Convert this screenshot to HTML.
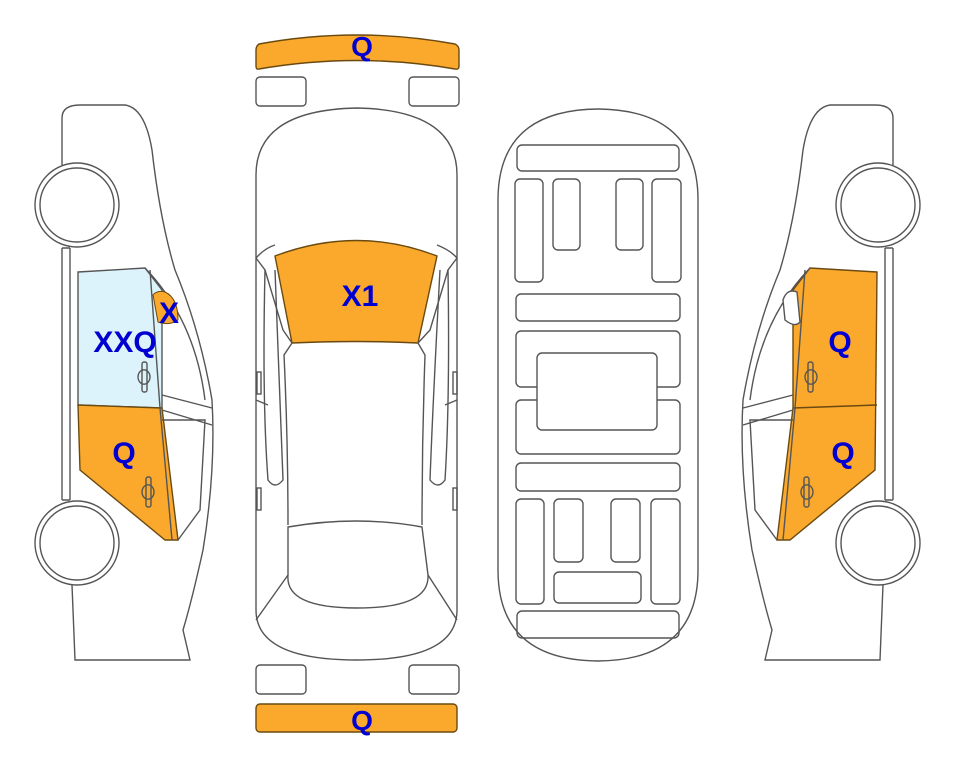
<!DOCTYPE html>
<html><head><meta charset="utf-8"><style>
html,body{margin:0;padding:0;background:#fff;}
svg{display:block;}
text{font-family:"Liberation Sans",Arial,sans-serif;font-weight:bold;fill:#0000d0;}
</style></head><body>
<svg width="963" height="768" viewBox="0 0 963 768" xmlns="http://www.w3.org/2000/svg">
<g fill="none" stroke="#555" stroke-width="1.4">
<path d="M259,44 Q357,26 455,44 Q459,46 459,50 L459,66 Q459,70 455,69 Q357,52 259,69 Q256,70 256,66 L256,50 Q256,46 259,44 Z" fill="#fba92d" stroke="#6a4a10"/>
<rect x="256" y="77" width="50" height="29" rx="4"/>
<rect x="409" y="77" width="50" height="29" rx="4"/>
<rect x="256" y="665" width="50" height="29" rx="4"/>
<rect x="409" y="665" width="50" height="29" rx="4"/>
<rect x="256" y="704" width="201" height="28" rx="4" fill="#fba92d" stroke="#6a4a10"/>

<path d="M256,175 Q256,110 357,108 Q457,110 457,175 L457,610 Q457,660 357,660 Q256,660 256,610 Z"/>
<path d="M275,256 Q357,225 437,256 L418,343 Q357,340 292,343 Z" fill="#fba92d" stroke="#6a4a10"/>
<path d="M256,258 Q265,248 275,245 M437,245 Q450,250 457,258"/>
<path d="M256,258 L265,270 L283,330 L292,343 M457,258 L448,270 L430,330 L418,343"/>
<path d="M292,343 L284,355 Q288,440 288,525 M418,343 L425,355 Q422,440 422,525"/>
<path d="M265,270 Q262,400 268,480 Q275,490 283,480 Q280,400 275,270"/>
<path d="M448,270 Q450,400 445,480 Q438,490 430,480 Q433,400 440,270"/>
<path d="M288,527 Q357,515 422,527 L428,575 Q430,608 357,608 Q285,608 288,575 Z"/>
<path d="M256,620 L288,575 M457,620 L428,575 M256,400 L268,405 M457,400 L445,405"/>
<rect x="257" y="372" width="4" height="22"/><rect x="453" y="372" width="4" height="22"/>
<rect x="257" y="488" width="4" height="22"/><rect x="453" y="488" width="4" height="22"/>

<path d="M498,200 Q498,110 598,109 Q698,110 698,200 L698,570 Q698,660 598,661 Q498,660 498,570 Z"/>
<rect x="517" y="145" width="162" height="26" rx="5"/>
<rect x="515" y="179" width="28" height="103" rx="5"/>
<rect x="553" y="179" width="27" height="71" rx="5"/>
<rect x="616" y="179" width="27" height="71" rx="5"/>
<rect x="652" y="179" width="29" height="103" rx="5"/>
<rect x="516" y="294" width="164" height="27" rx="5"/>
<rect x="516" y="331" width="164" height="56" rx="5"/>
<rect x="516" y="400" width="164" height="54" rx="5"/>
<rect x="537" y="353" width="120" height="77" rx="5" fill="#fff"/>
<rect x="516" y="463" width="164" height="28" rx="5"/>
<rect x="516" y="499" width="28" height="105" rx="5"/>
<rect x="554" y="499" width="29" height="63" rx="5"/>
<rect x="611" y="499" width="29" height="63" rx="5"/>
<rect x="651" y="499" width="29" height="105" rx="5"/>
<rect x="554" y="572" width="87" height="31" rx="5"/>
<rect x="517" y="611" width="162" height="27" rx="5"/>
</g>

<g fill="none" stroke="#555" stroke-width="1.4">
<path d="M62,165 L62,118 Q62,105 80,105 L125,105 Q145,108 152,150 Q160,220 175,270 Q200,330 212,400 Q216,470 203,550 Q192,600 183,630 L190,660 L75,660 L72,585 M62,248 L62,500"/>
<path d="M70,248 L70,500 M62,500 L70,500 M62,248 L70,248"/>
<path d="M78,272 L145,268 L162,290 L162,408 L78,405 Z" fill="#dcf3fb"/>
<path d="M78,405 L162,408 L178,540 L165,540 L80,470 Z" fill="#fba92d" stroke="#6a4a10"/>
<path d="M145,268 Q195,320 205,400 M162,395 L212,408 M162,410 L212,425 M162,420 L205,420 L200,510 L178,540"/>
<path d="M150,270 L160,408 L172,540"/>
<circle cx="77" cy="205" r="42" fill="#fff"/><circle cx="77" cy="205" r="37"/>
<circle cx="77" cy="543" r="42" fill="#fff"/><circle cx="77" cy="543" r="37"/>
<rect x="142" y="362" width="5" height="30" rx="2"/><path d="M138,377 a5,6 0 1,0 12,0 a5,6 0 1,0 -12,0"/>
<rect x="146" y="477" width="5" height="30" rx="2"/><path d="M142,492 a5,6 0 1,0 12,0 a5,6 0 1,0 -12,0"/>
</g>
<path d="M153,295 Q157,290 165,292 Q178,298 178,320 Q170,326 158,322 Z" fill="#fba92d" stroke="#6a4a10" stroke-width="1"/>

<g transform="translate(955,0) scale(-1,1)" fill="none" stroke="#555" stroke-width="1.4">
<path d="M62,165 L62,118 Q62,105 80,105 L125,105 Q145,108 152,150 Q160,220 175,270 Q200,330 212,400 Q216,470 203,550 Q192,600 183,630 L190,660 L75,660 L72,585 M62,248 L62,500"/>
<path d="M70,248 L70,500 M62,500 L70,500 M62,248 L70,248"/>
<path d="M78,272 L145,268 L162,290 L162,408 L178,540 L165,540 L80,470 Z" fill="#fba92d" stroke="#6a4a10"/>
<path d="M78,405 L162,408" stroke="#6a4a10"/>
<path d="M145,268 Q195,320 205,400 M162,395 L212,408 M162,410 L212,425 M162,420 L205,420 L200,510 L178,540"/>
<path d="M150,270 L160,408 L172,540"/>
<path d="M158,292 Q168,288 172,300 L170,320 Q160,328 155,322 Z" fill="#fff"/>
<circle cx="77" cy="205" r="42" fill="#fff"/><circle cx="77" cy="205" r="37"/>
<circle cx="77" cy="543" r="42" fill="#fff"/><circle cx="77" cy="543" r="37"/>
<rect x="142" y="362" width="5" height="30" rx="2"/><path d="M138,377 a5,6 0 1,0 12,0 a5,6 0 1,0 -12,0"/>
<rect x="146" y="477" width="5" height="30" rx="2"/><path d="M142,492 a5,6 0 1,0 12,0 a5,6 0 1,0 -12,0"/>
</g>

<text x="362" y="56" font-size="28" text-anchor="middle">Q</text>
<text x="362" y="730" font-size="28" text-anchor="middle">Q</text>
<text x="360" y="306" font-size="30" text-anchor="middle">X1</text>
<text x="125" y="352" font-size="30" text-anchor="middle">XXQ</text>
<text x="169" y="323" font-size="30" text-anchor="middle">X</text>
<text x="124" y="463" font-size="30" text-anchor="middle">Q</text>
<text x="840" y="352" font-size="30" text-anchor="middle">Q</text>
<text x="843" y="463" font-size="30" text-anchor="middle">Q</text>
</svg>
</body></html>
